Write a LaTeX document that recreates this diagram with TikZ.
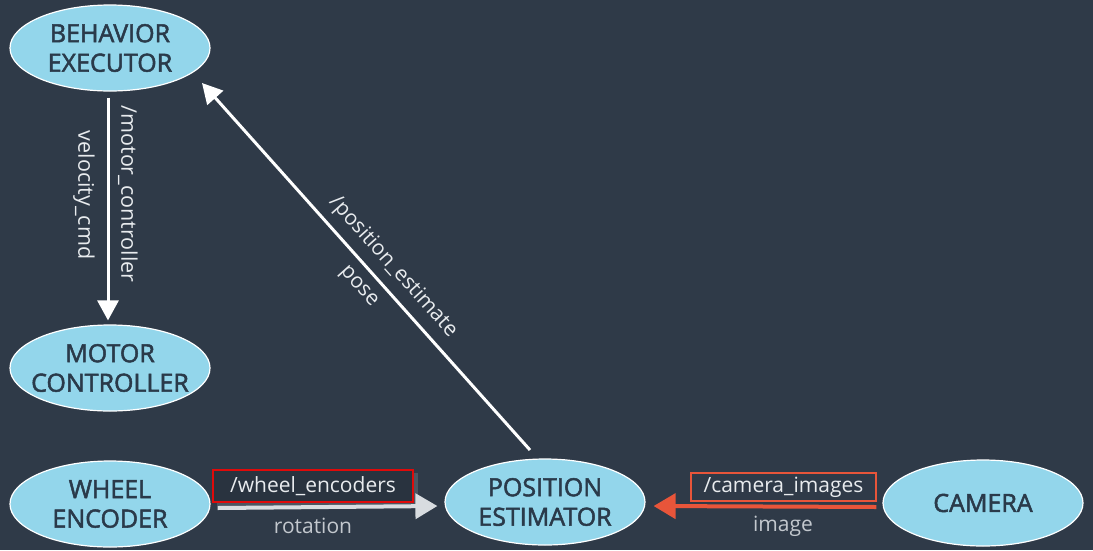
\documentclass[tikz,border=0pt]{standalone}
\usepackage{fontspec}
\setmainfont{Open Sans}
\newfontfamily\nodefont{Open Sans}[FakeBold=2]
\usetikzlibrary{shapes.geometric,arrows.meta,calc}
\definecolor{bg}{HTML}{2F3A48}
\definecolor{nodefill}{HTML}{93D6EB}
\definecolor{nodetext}{HTML}{2A3A4A}
\definecolor{lbl}{HTML}{E8EBEE}
\definecolor{dimlbl}{HTML}{C3C8CE}
\definecolor{redbox}{HTML}{E00A0A}
\definecolor{orng}{HTML}{E8553A}
\definecolor{grayarrow}{HTML}{D8DCE0}
\tikzset{
  rosnode/.style={ellipse, draw=white, line width=1.2pt, fill=nodefill, text=nodetext,
    minimum width=200pt, minimum height=86pt, inner xsep=-12pt, inner ysep=-12pt, align=center,
    font=\nodefont\fontsize{25}{29.5}\selectfont},
  topic/.style={text=lbl, font=\fontsize{21}{25}\selectfont, inner sep=0pt},
  msgtype/.style={text=dimlbl, font=\fontsize{21}{25}\selectfont, inner sep=0pt},
  conn/.style={line width=3pt, draw=white, -{Triangle[length=20pt,width=21pt]}},
}
\begin{document}
\begin{tikzpicture}[x=1pt,y=-1pt]
\fill[bg] (0,0) rectangle (1093,550);
\useasboundingbox (0,0) rectangle (1093,550);

\node[rosnode] (be) at (110,48) {BEHAVIOR\\EXECUTOR};
\node[rosnode] (mc) at (110,368) {MOTOR\\CONTROLLER};
\node[rosnode] (we) at (110,504) {WHEEL\\ENCODER};
\node[rosnode] (pe) at (545,502) {POSITION\\ESTIMATOR};
\node[rosnode] (cam) at (983,503) {CAMERA};

% vertical connector
\draw[conn, shorten <=6pt, shorten >=4pt] ([xshift=-2pt]be.south) -- ([xshift=-2pt]mc.north);
\node[topic, font=\fontsize{21.5}{25}\selectfont, rotate=-90] (mctopic) at (128,194) {/motor\_controller};
\node[topic, font=\fontsize{21.5}{25}\selectfont, rotate=-90] (mctype) at (84,195) {velocity\_cmd};

% diagonal connector
\coordinate (pestart) at ($(pe.center)+(-15,-52)$);
\coordinate (peend) at ($(be.center)+(92,35)$);
\draw[conn] (pestart) -- (peend);
\node[topic, rotate=-48.2] (petopic) at (393,267) {/position\_estimate};
\node[topic, rotate=-48.2] (petype) at (358,287) {pose};

% wheel encoder connector
\fill[white!14!bg] (217,473) rectangle (418,506);
\node[topic, draw=redbox, line width=2pt, fill=black!12!bg, minimum width=200pt, minimum height=32pt] (wetopic) at (313,486) {/wheel\_encoders};
\draw[line width=4pt, draw=grayarrow, -{Triangle[length=22pt,width=25pt]}]
  ([xshift=7pt,yshift=-4pt]we.east) -- ([xshift=-7pt,yshift=-4pt]pe.west);
\node[msgtype] (wetype) at (313,526) {rotation};

% camera connector
\node[topic, draw=orng, line width=2pt, minimum width=185pt, minimum height=28pt] (camtopic) at (783.5,487) {/camera\_images};
\draw[line width=4pt, draw=orng, -{Triangle[length=22pt,width=25pt]}]
  ([xshift=-6pt,yshift=-4pt]cam.west) -- ([xshift=8pt,yshift=-4pt]pe.east);
\node[msgtype] (camtype) at (783,526) {image};
\end{tikzpicture}
\end{document}
